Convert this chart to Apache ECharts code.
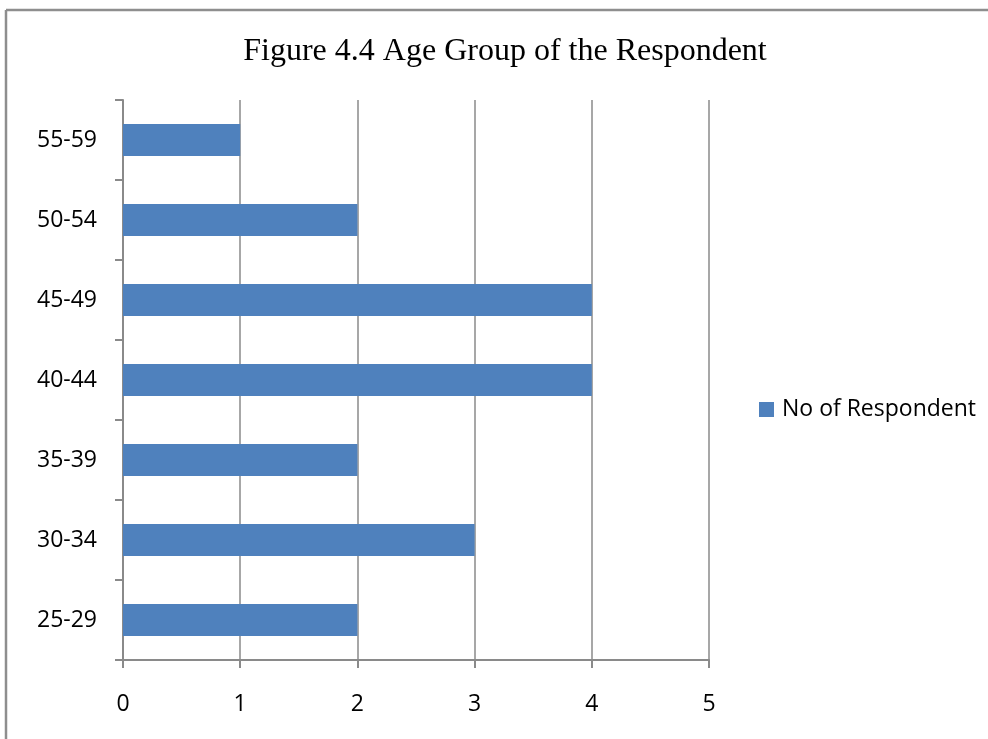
<!DOCTYPE html>
<html>
<head>
<meta charset="utf-8">
<script src="https://cdn.jsdelivr.net/npm/echarts@6/dist/echarts.min.js"></script>
<style>
  html, body { margin: 0; padding: 0; background: #ffffff; }
  #chart { width: 988px; height: 739px; }
</style>
</head>
<body>
<div id="chart"></div>
<script>
// Age groups, listed from the bottom of the axis to the top
const ageGroups = ['25-29', '30-34', '35-39', '40-44', '45-49', '50-54', '55-59'];
const respondents = [2, 3, 2, 4, 4, 2, 1];
const valueTicks = [0, 1, 2, 3, 4, 5];

const seriesName = 'No of Respondent';
const titleText = 'Figure 4.4 Age Group of the Respondent';

const axisGray = '#8a8a8a';
const labelFont = 'Open Sans';

const chart = echarts.init(document.getElementById('chart'), null, { renderer: 'canvas' });

chart.setOption({
  backgroundColor: '#ffffff',
  animation: false,
  title: {
    text: titleText,
    left: 500,
    top: 31,
    textAlign: 'center',
    textStyle: {
      fontFamily: 'Liberation Serif',
      fontSize: 32,
      fontWeight: 'normal',
      color: '#000000'
    }
  },
  legend: {
    left: 754,
    top: 393,
    orient: 'vertical',
    icon: 'rect',
    itemWidth: 15,
    itemHeight: 15,
    data: [seriesName],
    textStyle: {
      fontFamily: labelFont,
      fontSize: 23,
      color: '#000000',
      padding: [0, 0, 0, 3]
    }
  },
  grid: {
    left: 123,
    right: 279,
    top: 100,
    bottom: 79,
    containLabel: false
  },
  xAxis: {
    type: 'value',
    min: valueTicks[0],
    max: valueTicks[valueTicks.length - 1],
    interval: 1,
    axisLine: { show: true, lineStyle: { color: axisGray, width: 2 } },
    axisTick: { show: true, length: 8, lineStyle: { color: axisGray, width: 2 } },
    splitLine: { show: true, lineStyle: { color: axisGray, width: 1.5 } },
    axisLabel: {
      margin: 33,
      fontFamily: labelFont,
      fontSize: 23,
      color: '#000000'
    }
  },
  yAxis: {
    type: 'category',
    data: ageGroups,
    axisLine: { show: true, lineStyle: { color: axisGray, width: 2 } },
    axisTick: { show: true, length: 8, alignWithLabel: false, lineStyle: { color: axisGray, width: 2 } },
    splitLine: { show: false },
    axisLabel: {
      margin: 26,
      fontFamily: labelFont,
      fontSize: 23,
      color: '#000000'
    }
  },
  series: [{
    name: seriesName,
    type: 'bar',
    data: respondents,
    barWidth: '40%',
    itemStyle: { color: '#4F81BD' }
  }],
  graphic: [
    {
      type: 'line',
      shape: { x1: 6, y1: 10, x2: 988, y2: 10 },
      style: { stroke: '#8e8e8e', lineWidth: 2.5 },
      silent: true
    },
    {
      type: 'line',
      shape: { x1: 6, y1: 10, x2: 6, y2: 739 },
      style: { stroke: '#8e8e8e', lineWidth: 2.5 },
      silent: true
    }
  ]
});
</script>
</body>
</html>
